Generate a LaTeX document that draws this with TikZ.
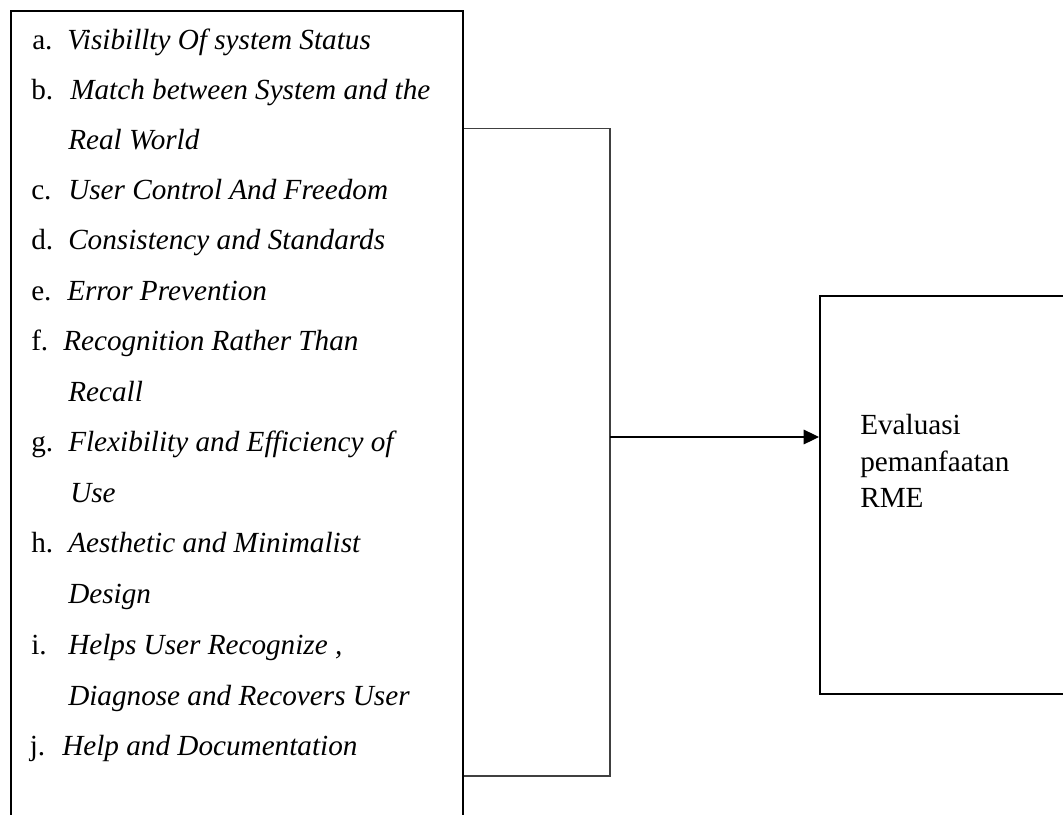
\documentclass[tikz,border=0pt]{standalone}
\usepackage{fontspec}
\setmainfont{Liberation Serif}
\usetikzlibrary{arrows.meta}
\begin{document}
\begin{tikzpicture}[x=0.75pt,y=-0.75pt,
  every node/.style={font=\fontsize{21.9}{27.4}\selectfont},
  thickbox/.style={draw=black, line width=1.5pt, rectangle, inner sep=0pt, anchor=north west},
  lbl/.style={anchor=base west, inner sep=0pt},
  itm/.style={anchor=base west, inner sep=0pt, font=\fontsize{21.9}{27.4}\selectfont\itshape},
  bracket/.style={draw=black!75, line width=0.8pt},
  arr/.style={draw=black, line width=0.8pt, -{Triangle[length=11.5pt,width=11pt]}}]
\useasboundingbox (0,0) rectangle (1063,814);

% boxes
\node[thickbox, minimum width=338.8pt, minimum height=630pt] (leftbox) at (10,9.5) {};
\node[thickbox, minimum width=183pt, minimum height=298.5pt] (rightbox) at (819,295) {};

% list items
\node[lbl] (la) at (32,49) {a.};
\node[itm] (ta) at (67,49) {Visibillty Of system Status};
\node[lbl] (lb) at (31,99) {b.};
\node[itm] (tb) at (70,99) {Match between System and the};
\node[itm] (tb2) at (68,149) {Real World};
\node[lbl] (lc) at (31,199) {c.};
\node[itm] (tc) at (68,199) {User Control And Freedom};
\node[lbl] (ld) at (31,249) {d.};
\node[itm] (td) at (68,249) {Consistency and Standards};
\node[lbl] (le) at (31,300) {e.};
\node[itm] (te) at (67,300) {Error Prevention};
\node[lbl] (lf) at (31,350) {f.};
\node[itm] (tf) at (63,350) {Recognition Rather Than};
\node[itm] (tf2) at (68,401) {Recall};
\node[lbl] (lg) at (31,451) {g.};
\node[itm] (tg) at (68,451) {Flexibility and Efficiency of};
\node[itm] (tg2) at (70,502) {Use};
\node[lbl] (lh) at (31,552) {h.};
\node[itm] (th) at (68,552) {Aesthetic and Minimalist};
\node[itm] (th2) at (68,603) {Design};
\node[lbl] (li) at (31,654) {i.};
\node[itm] (ti) at (68,654) {Helps User Recognize ,};
\node[itm] (ti2) at (68,705) {Diagnose and Recovers User};
\node[lbl] (lj) at (29.5,755) {j.};
\node[itm] (tj) at (62,755) {Help and Documentation};

% right box text
\node[lbl] (r1) at (860,434) {Evaluasi};
\node[lbl] (r2) at (860,471) {pemanfaatan};
\node[lbl] (r3) at (860,507) {RME};

% bracket connector
\coordinate (bt) at (610,128.7);
\coordinate (bb) at (610,776);
\coordinate (ba) at (610,437);
\draw[bracket] (leftbox.east |- bt) -- (bt) -- (bb) -- (leftbox.east |- bb);
\draw[arr] (ba) -- (ba -| rightbox.west);
\end{tikzpicture}
\end{document}
